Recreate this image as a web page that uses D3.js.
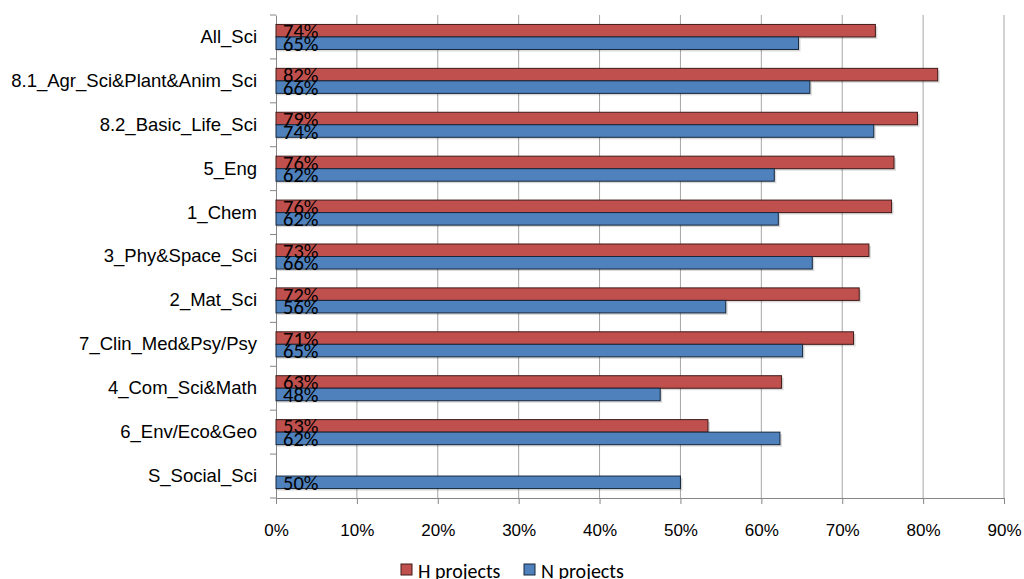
<!DOCTYPE html>
<html><head><meta charset="utf-8">
<script src="https://cdn.jsdelivr.net/npm/d3@7"></script>
<style>body{margin:0;background:#fff;} svg{display:block;font-family:Carlito,Lato,"Liberation Sans",sans-serif;}</style>
</head><body>
<svg id="c" width="1024" height="579"></svg>
<script>
const categories = ["All_Sci","8.1_Agr_Sci&Plant&Anim_Sci","8.2_Basic_Life_Sci","5_Eng","1_Chem","3_Phy&Space_Sci","2_Mat_Sci","7_Clin_Med&Psy/Psy","4_Com_Sci&Math","6_Env/Eco&Geo","S_Social_Sci"];
const hProjects = [0.741,0.818,0.793,0.764,0.761,0.733,0.721,0.714,0.625,0.534,null];
const nProjects = [0.646,0.660,0.739,0.616,0.621,0.663,0.556,0.651,0.475,0.623,0.500];
const seriesNames = ["H projects","N projects"];
const seriesColors = ["#C0504D","#4F81BD"];
const seriesStroke = ["#3f1a19","#17273b"];
const xTicks = [0,0.1,0.2,0.3,0.4,0.5,0.6,0.7,0.8,0.9];

const svg = d3.select("#c");
const m = {l:276, r:20, t:15, b:81};
const W = 1024, H = 579;
const x = d3.scaleLinear().domain([0,0.9]).range([m.l, W - m.r]);
const y = d3.scaleBand().domain(categories).range([m.t, H - m.b]).paddingInner(0.43).paddingOuter(0.215);
const sub = d3.scaleBand().domain([0,1]).range([0, y.bandwidth()]);

// gridlines
svg.append("g").selectAll("line").data(xTicks.slice(1)).join("line")
  .attr("x1", d=>x(d)).attr("x2", d=>x(d)).attr("y1", m.t).attr("y2", H-m.b)
  .attr("stroke","#a6a6a6").attr("stroke-width",1);

// x axis
const xa = svg.append("g").attr("transform",`translate(0,${H-m.b})`)
  .call(d3.axisBottom(x).tickValues(xTicks).tickFormat(d3.format(".0%")).tickSizeInner(6).tickSizeOuter(0).tickPadding(20));
xa.select(".domain").attr("stroke","#868686");
xa.selectAll(".tick line").attr("stroke","#868686");
xa.selectAll("text").attr("font-size",17).attr("fill","#000");

// y axis
const ya = svg.append("g").attr("transform",`translate(${m.l},0)`)
  .call(d3.axisLeft(y).tickSize(0).tickPadding(19));
ya.select(".domain").attr("stroke","#868686");
ya.selectAll("text").attr("font-size",18.5).attr("fill","#000");
// category boundary ticks
const bounds = d3.range(categories.length+1).map(i=>m.t + i*(H-m.b-m.t)/categories.length);
svg.append("g").selectAll("line").data(bounds).join("line")
  .attr("x1", m.l-6).attr("x2", m.l).attr("y1", d=>d).attr("y2", d=>d).attr("stroke","#868686");

const series = [hProjects, nProjects];
series.forEach((vals, si) => {
  const g = svg.append("g");
  const data = categories.map((c,i)=>({c, v: vals[i]})).filter(d=>d.v!=null);
  g.selectAll("rect.sh").data(data).join("rect")
    .attr("x", x(0)+1).attr("y", d=>y(d.c)+sub(si)+2)
    .attr("width", d=>x(d.v)-x(0)+1).attr("height", sub.bandwidth())
    .attr("fill","#000").attr("opacity",0.15);
  g.selectAll("rect.b").data(data).join("rect")
    .attr("x", x(0)).attr("y", d=>y(d.c)+sub(si))
    .attr("width", d=>x(d.v)-x(0)).attr("height", sub.bandwidth())
    .attr("fill", seriesColors[si]).attr("stroke", seriesStroke[si]).attr("stroke-width",1);
});
series.forEach((vals, si) => {
  const data = categories.map((c,i)=>({c, v: vals[i]})).filter(d=>d.v!=null);
  svg.append("g").selectAll("text").data(data).join("text")
    .attr("x", x(0)+7).attr("y", d=>y(d.c)+sub(si)+sub.bandwidth()/2+7.5)
    .attr("font-size",20.5).attr("fill","#000")
    .text(d=>d3.format(".0%")(d.v));
});

// legend
const lg = svg.append("g");
const lx = [401, 524];
seriesNames.forEach((n,i)=>{
  lg.append("rect").attr("x",lx[i]).attr("y",564).attr("width",11).attr("height",11)
    .attr("fill",seriesColors[i]).attr("stroke",seriesStroke[i]);
  lg.append("text").attr("x",lx[i]+17).attr("y",578).attr("font-size",20).attr("fill","#000").text(n);
});
</script>
</body></html>
